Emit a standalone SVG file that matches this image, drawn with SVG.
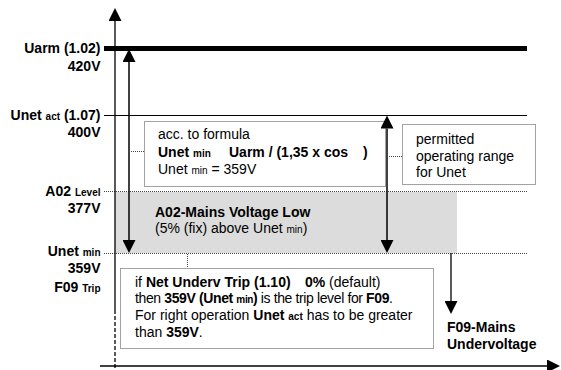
<svg xmlns="http://www.w3.org/2000/svg" width="561" height="370" viewBox="0 0 561 370">
  <style>
    text { font-family: "Liberation Sans", Arial, sans-serif; font-size: 14px; fill: #000; }
    .b { font-weight: bold; }
    .sub { font-size: 10px; }
    .lbl { font-weight: bold; text-anchor: end; }
    .dot { fill: none; stroke: #444; stroke-width: 1; stroke-dasharray: 1 1; }
    .ln { stroke: #000; fill: none; }
  </style>
  <defs>
    <marker id="head" markerUnits="userSpaceOnUse" markerWidth="13" markerHeight="13" refX="0" refY="6.5" orient="auto-start-reverse" viewBox="0 0 13 13">
      <path d="M0,0 L13,6.5 L0,13 z" fill="#000"/>
    </marker>
  </defs>

  <rect width="561" height="370" fill="#fff"/>

  <!-- A02 band between warning level and minimum -->
  <g id="band-a02">
    <rect x="115" y="192" width="342" height="61" fill="#dcdcdc"/>
    <text class="b" x="155" y="217">A02-Mains Voltage Low</text>
    <text x="155" y="233">(5% (fix) above Unet <tspan class="sub">min</tspan>)</text>
  </g>

  <!-- level lines -->
  <g id="levels">
    <line class="ln" x1="104" y1="48.5" x2="527" y2="48.5" stroke-width="5"/>
    <line class="ln" x1="104" y1="115.5" x2="527" y2="115.5" stroke-width="1.2"/>
    <line class="dot" x1="104" y1="191.5" x2="527" y2="191.5"/>
    <line class="dot" x1="104" y1="253.5" x2="527" y2="253.5"/>
  </g>

  <!-- level labels -->
  <g id="label-uarm">
    <text class="lbl" x="100.5" y="53">Uarm (1.02)</text>
    <text class="lbl" x="100.5" y="71">420V</text>
  </g>
  <g id="label-unet-act">
    <text class="lbl" x="100.5" y="119.5">Unet <tspan class="sub">act</tspan> (1.07)</text>
    <text class="lbl" x="100.5" y="137">400V</text>
  </g>
  <g id="label-a02">
    <text class="lbl" x="100.5" y="196">A02 <tspan class="sub">Level</tspan></text>
    <text class="lbl" x="100.5" y="213">377V</text>
  </g>
  <g id="label-unet-min">
    <text class="lbl" x="100.5" y="256">Unet <tspan class="sub">min</tspan></text>
    <text class="lbl" x="100.5" y="273">359V</text>
    <text class="lbl" x="100.5" y="292">F09 <tspan class="sub">Trip</tspan></text>
  </g>

  <!-- formula note -->
  <g id="note-formula">
    <rect class="dot" x="144.5" y="121.5" width="241" height="65"/>
    <text x="158" y="139">acc. to formula</text>
    <text class="b" x="158" y="157">Unet <tspan class="sub">min</tspan></text>
    <text class="b" x="229" y="157">Uarm / (1,35 x cos</text>
    <text class="b" x="363" y="157">)</text>
    <text x="158" y="174">Unet <tspan class="sub">min</tspan> = 359V</text>
  </g>

  <!-- operating range note -->
  <g id="note-range">
    <rect class="dot" x="402.5" y="124.5" width="133" height="60"/>
    <text x="416" y="144">permitted</text>
    <text x="416" y="161">operating range</text>
    <text x="416" y="177">for Unet</text>
  </g>

  <!-- trip note -->
  <g id="note-trip">
    <rect class="dot" x="120.5" y="268.5" width="313" height="80"/>
    <text x="135" y="287">if <tspan class="b">Net Underv Trip (1.10)</tspan></text>
    <text x="305" y="287"><tspan class="b">0%</tspan> (default)</text>
    <text x="135" y="303" textLength="258" lengthAdjust="spacing">then <tspan class="b">359V (Unet <tspan class="sub">min</tspan>)</tspan> is the trip level for <tspan class="b">F09</tspan>.</text>
    <text x="135" y="320">For right operation <tspan class="b">Unet <tspan class="sub">act</tspan></tspan> has to be greater</text>
    <text x="135" y="337">than <tspan class="b">359V</tspan>.</text>
  </g>

  <!-- fault result -->
  <g id="fault-f09">
    <text class="b" x="447" y="332">F09-Mains</text>
    <text class="b" x="447" y="349">Undervoltage</text>
  </g>

  <!-- axes, arrows and leader lines -->
  <g id="connectors">
    <line class="ln" x1="115" y1="310" x2="115" y2="21" stroke-width="1.3" marker-end="url(#head)"/>
    <line class="ln" x1="115" y1="310" x2="115" y2="370" stroke-width="1.3" stroke-dasharray="4 2"/>
    <line class="ln" x1="100" y1="366" x2="547" y2="366" stroke-width="1.3" marker-end="url(#head)"/>
    <line class="ln" x1="129" y1="62" x2="129" y2="240" stroke-width="1.5" marker-start="url(#head)" marker-end="url(#head)"/>
    <line class="ln" x1="387" y1="128.5" x2="387" y2="240" stroke-width="1.5" marker-start="url(#head)" marker-end="url(#head)"/>
    <line class="ln" x1="451" y1="253" x2="451" y2="301" stroke-width="1.3" marker-end="url(#head)"/>
    <line class="dot" x1="129" y1="151.5" x2="144" y2="151.5"/>
    <line class="dot" x1="387" y1="156.5" x2="402" y2="156.5"/>
    <line class="dot" x1="187.5" y1="254" x2="187.5" y2="268"/>
  </g>
</svg>
